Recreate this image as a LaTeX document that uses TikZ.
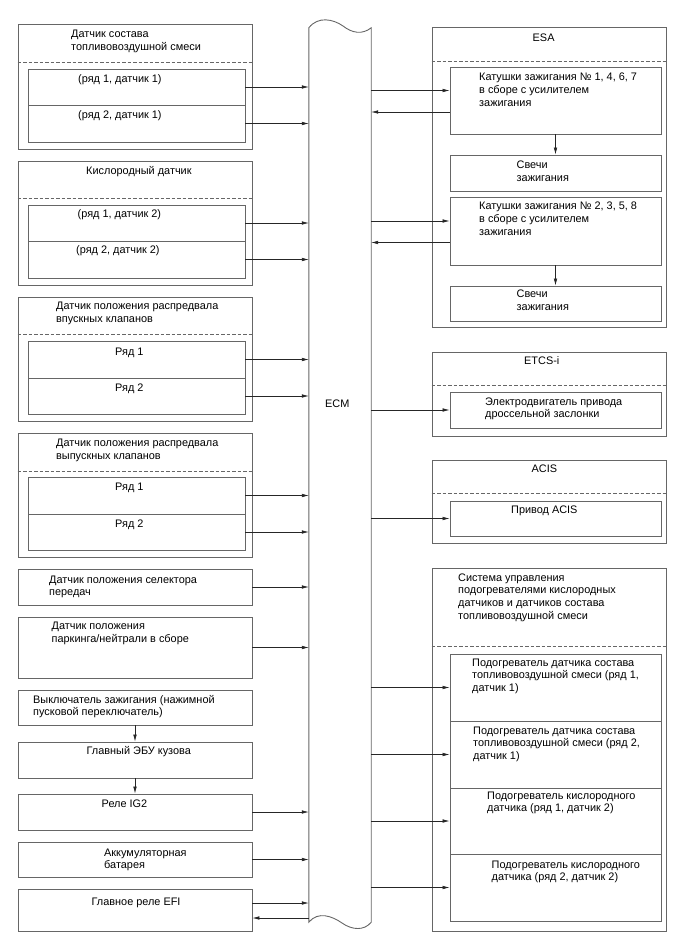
\documentclass[tikz,border=0pt]{standalone}
\usepackage{fontspec}
\setmainfont{Liberation Sans}
\usetikzlibrary{arrows.meta,positioning,calc,fit}

\begin{document}
\begin{tikzpicture}[x=1pt, y=-1pt, font=\fontsize{10.9}{12.8}\selectfont, >={Latex[length=7pt,width=3.6pt]}]
\tikzstyle{blk}=[draw=black!60, line width=0.9pt, inner sep=0pt]
\tikzstyle{sep}=[draw=black!60, line width=0.8pt, dash pattern=on 3.5pt off 2pt]
\tikzstyle{txt}=[anchor=base west, inner sep=0pt, align=left]
\tikzstyle{link}=[->, black!85, line width=0.6pt]
\useasboundingbox (0,0) rectangle (688,949);

\node[blk, fit={(18,24) (252,149)}] (g1) {};
\node[blk, fit={(28,69) (245,105)}] (c1a) {};
\node[blk, fit={(28,105) (245,142)}] (c1b) {};
\node[blk, fit={(18,161) (252,285)}] (g2) {};
\node[blk, fit={(28,205) (245,241)}] (c2a) {};
\node[blk, fit={(28,241) (245,278)}] (c2b) {};
\node[blk, fit={(18,297) (252,421)}] (g3) {};
\node[blk, fit={(28,341) (245,378)}] (c3a) {};
\node[blk, fit={(28,378) (245,414)}] (c3b) {};
\node[blk, fit={(18,433) (252,557)}] (g4) {};
\node[blk, fit={(28,477) (245,514)}] (c4a) {};
\node[blk, fit={(28,514) (245,550)}] (c4b) {};
\node[blk, fit={(18,569) (252,605)}] (sel) {};
\node[blk, fit={(18,617) (252,678)}] (pnp) {};
\node[blk, fit={(18,690) (252,725)}] (ign) {};
\node[blk, fit={(18,742) (252,778)}] (body) {};
\node[blk, fit={(18,794) (252,830)}] (ig2) {};
\node[blk, fit={(18,842) (252,877)}] (bat) {};
\node[blk, fit={(18,889) (252,931)}] (efi) {};

\node[blk, fit={(432,27) (666,327)}] (esa) {};
\node[blk, fit={(450,67) (661,134)}] (coil1) {};
\node[blk, fit={(450,155) (661,191)}] (plug1) {};
\node[blk, fit={(450,197) (661,265)}] (coil2) {};
\node[blk, fit={(450,286) (661,321)}] (plug2) {};
\node[blk, fit={(432,352) (666,436)}] (etcs) {};
\node[blk, fit={(450,392) (661,428)}] (thr) {};
\node[blk, fit={(432,460) (666,543)}] (acis) {};
\node[blk, fit={(450,501) (661,536)}] (acsdrv) {};
\node[blk, fit={(432,568) (666,931)}] (htr) {};
\node[blk, fit={(450,654) (661,721)}] (h1) {};
\node[blk, fit={(450,721) (661,788)}] (h2) {};
\node[blk, fit={(450,788) (661,854)}] (h3) {};
\node[blk, fit={(450,854) (661,921)}] (h4) {};

\node[inner sep=0pt, fit={(309,28) (371,922)}] (ecm) {};
\draw[blk] (ecm.south west) -- (ecm.north west)
  .. controls (318,16) and (333,19) .. (343,26)
  .. controls (352,33) and (362,35) .. (ecm.north east)
  -- (ecm.south east)
  .. controls (364,931) and (352,930) .. (342,923)
  .. controls (332,916) and (318,911) .. cycle;

\draw[sep] (g1.west |- 0,62) -- (g1.east |- 0,62);
\draw[sep] (g2.west |- 0,198) -- (g2.east |- 0,198);
\draw[sep] (g3.west |- 0,334) -- (g3.east |- 0,334);
\draw[sep] (g4.west |- 0,471) -- (g4.east |- 0,471);
\draw[sep] (esa.west |- 0,61) -- (esa.east |- 0,61);
\draw[sep] (etcs.west |- 0,385) -- (etcs.east |- 0,385);
\draw[sep] (acis.west |- 0,493) -- (acis.east |- 0,493);
\draw[sep] (htr.west |- 0,646) -- (htr.east |- 0,646);

\node[txt] (t1) at (71,50.3) {Датчик состава\\топливовоздушной смеси};
\node[txt] (t1a) at (78,82.5) {(ряд 1, датчик 1)};
\node[txt] (t1b) at (78,118.5) {(ряд 2, датчик 1)};
\node[txt] (t2) at (86,174.5) {Кислородный датчик};
\node[txt] (t2a) at (77.5,217.5) {(ряд 1, датчик 2)};
\node[txt] (t2b) at (76,253.5) {(ряд 2, датчик 2)};
\node[txt] (t3) at (56,322.3) {Датчик положения распредвала\\впускных клапанов};
\node[txt] (t3a) at (115,355) {Ряд 1};
\node[txt] (t3b) at (115,391) {Ряд 2};
\node[txt] (t4) at (56,459.3) {Датчик положения распредвала\\выпускных клапанов};
\node[txt] (t4a) at (115,490) {Ряд 1};
\node[txt] (t4b) at (115,527) {Ряд 2};
\node[txt] (tsel) at (49,595.8) {Датчик положения селектора\\передач};
\node[txt] (tpnp) at (51.5,642.3) {Датчик положения\\паркинга/нейтрали в сборе};
\node[txt] (tign) at (33,715.8) {Выключатель зажигания (нажимной\\пусковой переключатель)};
\node[txt] (tbody) at (86.5,754.5) {Главный ЭБУ кузова};
\node[txt] (tig2) at (101.5,807) {Реле IG2};
\node[txt] (tbat) at (104,868.8) {Аккумуляторная\\батарея};
\node[txt] (tefi) at (91.5,905) {Главное реле EFI};
\node[txt] (tecm) at (325,407) {ECM};

\node[txt] (tesa) at (532.5,42) {ESA};
\node[txt] (tcoil1) at (479,106.6) {Катушки зажигания № 1, 4, 6, 7\\в сборе с усилителем\\зажигания};
\node[txt] (tplug1) at (516.5,181.3) {Свечи\\зажигания};
\node[txt] (tcoil2) at (479,235.6) {Катушки зажигания № 2, 3, 5, 8\\в сборе с усилителем\\зажигания};
\node[txt] (tplug2) at (516.5,310.3) {Свечи\\зажигания};
\node[txt] (tetcs) at (524,364) {ETCS-i};
\node[txt] (tthr) at (485,417.8) {Электродвигатель привода\\дроссельной заслонки};
\node[txt] (tacis) at (531.5,472) {ACIS};
\node[txt] (tacsdrv) at (511,513.5) {Привод ACIS};
\node[txt] (thtr) at (458,619.4) {Система управления\\подогревателями кислородных\\датчиков и датчиков состава\\топливовоздушной смеси};
\node[txt] (th1) at (472,691.6) {Подогреватель датчика состава\\топливовоздушной смеси (ряд 1,\\датчик 1)};
\node[txt] (th2) at (473,759.6) {Подогреватель датчика состава\\топливовоздушной смеси (ряд 2,\\датчик 1)};
\node[txt] (th3) at (487,811.8) {Подогреватель кислородного\\датчика (ряд 1, датчик 2)};
\node[txt] (th4) at (491.5,880.8) {Подогреватель кислородного\\датчика (ряд 2, датчик 2)};

\coordinate (coil1in) at ([yshift=10pt]coil1.west);
\coordinate (coil1out) at ([yshift=-11.5pt]coil1.west);
\coordinate (coil2in) at ([yshift=10pt]coil2.west);
\coordinate (coil2out) at ([yshift=-11.5pt]coil2.west);
\coordinate (efiout) at ([yshift=7pt]efi.east);
\coordinate (efiin) at ([yshift=-8pt]efi.east);

\foreach \src in {c1a,c1b,c2a,c2b,c3a,c3b,c4a,c4b,sel,pnp,ig2,bat}
  \draw[link] (\src.east) -- (ecm.west |- \src.east);
\draw[link] (efiout) -- (ecm.west |- efiout);
\draw[link] (ecm.west |- efiin) -- (efiin);
\draw[link] (ign.south) -- (body.north);
\draw[link] (body.south) -- (ig2.north);

\draw[link] (ecm.east |- coil1in) -- (coil1in);
\draw[link] (coil1out) -- (ecm.east |- coil1out);
\draw[link] (ecm.east |- coil2in) -- (coil2in);
\draw[link] (coil2out) -- (ecm.east |- coil2out);
\draw[link] (coil1.south) -- (plug1.north);
\draw[link] (coil2.south) -- (plug2.north);
\foreach \dst in {thr,acsdrv,h1,h2,h3,h4}
  \draw[link] (ecm.east |- \dst.west) -- (\dst.west);
\end{tikzpicture}
\end{document}
